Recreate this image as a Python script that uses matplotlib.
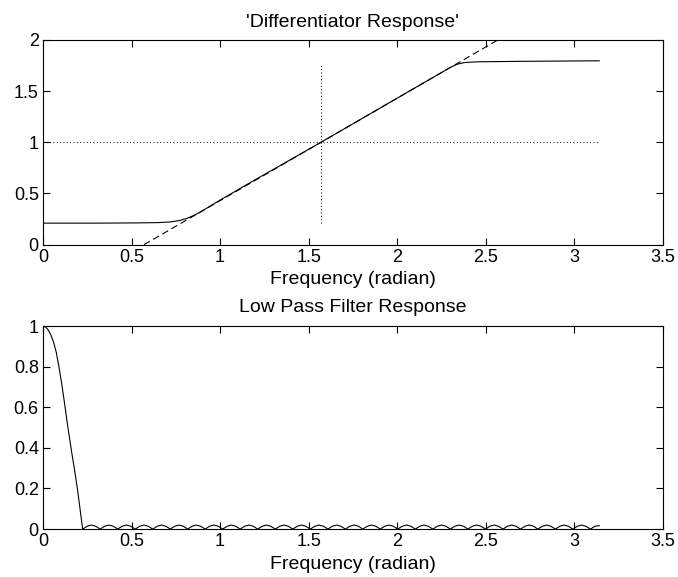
import matplotlib.pyplot as plt

plt.rcParams['font.family'] = ['Liberation Sans', 'DejaVu Sans']

diff_w = [0.0, 0.3, 0.5, 0.65, 0.72, 0.77, 0.81, 0.85, 0.9, 1.0, 1.2, 1.5708,
          2.0, 2.2, 2.3, 2.34, 2.38, 2.45, 2.7, 3.1416]
diff_h = [0.21, 0.21, 0.212, 0.215, 0.222, 0.235, 0.255, 0.283, 0.33, 0.435, 0.635, 1.0,
          1.43, 1.63, 1.73, 1.762, 1.778, 1.785, 1.79, 1.795]
# ideal differentiator (dashed)
ideal_w = [0.5708, 2.5708]
ideal_h = [0.0, 2.0]
# dotted guide lines
guide_hw = [0.0, 3.1416]
guide_hh = [1.0, 1.0]
guide_vw = [1.5708, 1.5708]
guide_vh = [0.21, 1.77]

# low pass: main lobe then stopband ripple
lp_w = [0.0, 0.015, 0.03, 0.045, 0.06, 0.075, 0.09, 0.105, 0.12, 0.14, 0.16, 0.175,
        0.195, 0.21, 0.224,
        0.249, 0.273, 0.298, 0.323, 0.348, 0.372, 0.397, 0.422, 0.447, 0.471, 0.496,
        0.521, 0.546, 0.570, 0.595, 0.620, 0.645, 0.669, 0.694, 0.719, 0.744, 0.768, 0.793,
        0.817, 0.842, 0.866, 0.891, 0.916, 0.941, 0.965, 0.990, 1.015, 1.040, 1.064, 1.089,
        1.114, 1.139, 1.163, 1.188, 1.213, 1.238, 1.262, 1.287, 1.312, 1.337, 1.361, 1.386,
        1.411, 1.436, 1.460, 1.485, 1.510, 1.535, 1.559, 1.584, 1.609, 1.634, 1.658, 1.683,
        1.708, 1.733, 1.757, 1.782, 1.806, 1.831, 1.855, 1.880, 1.905, 1.930, 1.954, 1.979,
        2.004, 2.029, 2.053, 2.078, 2.103, 2.128, 2.152, 2.177, 2.202, 2.227, 2.251, 2.276,
        2.301, 2.326, 2.350, 2.375, 2.400, 2.425, 2.449, 2.474, 2.499, 2.524, 2.548, 2.573,
        2.598, 2.623, 2.647, 2.672, 2.697, 2.722, 2.746, 2.771, 2.795, 2.820, 2.844, 2.869,
        2.894, 2.919, 2.943, 2.968, 2.993, 3.018, 3.042, 3.067, 3.092, 3.117, 3.1416]
lp_h = [1.0, 0.995, 0.98, 0.955, 0.92, 0.87, 0.80, 0.72, 0.63, 0.505, 0.39, 0.31,
        0.195, 0.095, 0.0,
        0.014, 0.02, 0.014, 0.0, 0.014, 0.02, 0.014, 0.0, 0.014, 0.02, 0.014,
        0.0, 0.014, 0.02, 0.014, 0.0, 0.014, 0.02, 0.014, 0.0, 0.014, 0.02, 0.014,
        0.0, 0.014, 0.02, 0.014, 0.0, 0.014, 0.02, 0.014, 0.0, 0.014, 0.02, 0.014,
        0.0, 0.014, 0.02, 0.014, 0.0, 0.014, 0.02, 0.014, 0.0, 0.014, 0.02, 0.014,
        0.0, 0.014, 0.02, 0.014, 0.0, 0.014, 0.02, 0.014, 0.0, 0.014, 0.02, 0.014,
        0.0, 0.014, 0.02, 0.014, 0.0, 0.014, 0.02, 0.014, 0.0, 0.014, 0.02, 0.014,
        0.0, 0.014, 0.02, 0.014, 0.0, 0.014, 0.02, 0.014, 0.0, 0.014, 0.02, 0.014,
        0.0, 0.014, 0.02, 0.014, 0.0, 0.014, 0.02, 0.014, 0.0, 0.014, 0.02, 0.014,
        0.0, 0.014, 0.02, 0.014, 0.0, 0.014, 0.02, 0.014, 0.0, 0.014, 0.02, 0.014,
        0.0, 0.014, 0.02, 0.014, 0.0, 0.014, 0.02, 0.014, 0.0, 0.014, 0.017]

xticks = [0, 0.5, 1, 1.5, 2, 2.5, 3, 3.5]
xticklabels = ['0', '0.5', '1', '1.5', '2', '2.5', '3', '3.5']
top_yticks = [0, 0.5, 1, 1.5, 2]
top_yticklabels = ['0', '0.5', '1', '1.5', '2']
bot_yticks = [0, 0.2, 0.4, 0.6, 0.8, 1]
bot_yticklabels = ['0', '0.2', '0.4', '0.6', '0.8', '1']

fig = plt.figure(figsize=(6.78, 5.77), dpi=100)
ax1 = fig.add_axes([0.0634, 0.576, 0.914, 0.355])
ax2 = fig.add_axes([0.0634, 0.083, 0.914, 0.352])

lw = 0.8
ax1.plot(diff_w, diff_h, color='black', lw=lw)
ax1.plot(ideal_w, ideal_h, color='black', lw=lw, dashes=(6, 3.5))
ax1.plot(guide_hw, guide_hh, color='black', lw=lw, dashes=(0.8, 2.2))
ax1.plot(guide_vw, guide_vh, color='black', lw=lw, dashes=(0.8, 2.2))
ax2.plot(lp_w, lp_h, color='black', lw=lw)

for ax, yt, ytl in [(ax1, top_yticks, top_yticklabels), (ax2, bot_yticks, bot_yticklabels)]:
    ax.set_xlim(0, 3.5)
    ax.set_ylim(yt[0], yt[-1])
    ax.set_xticks(xticks)
    ax.set_xticklabels(xticklabels)
    ax.set_yticks(yt)
    ax.set_yticklabels(ytl)
    ax.tick_params(direction='in', top=True, right=True, length=5, width=0.8,
                   labelsize=13, pad=3)
    for s in ax.spines.values():
        s.set_linewidth(0.8)
    ax.set_xlabel('Frequency (radian)', fontsize=14, labelpad=4)

ax1.set_title("'Differentiator Response'", fontsize=14, pad=9)
ax2.set_title('Low Pass Filter Response', fontsize=14, pad=10)

fig.savefig('out.png', dpi=100)
